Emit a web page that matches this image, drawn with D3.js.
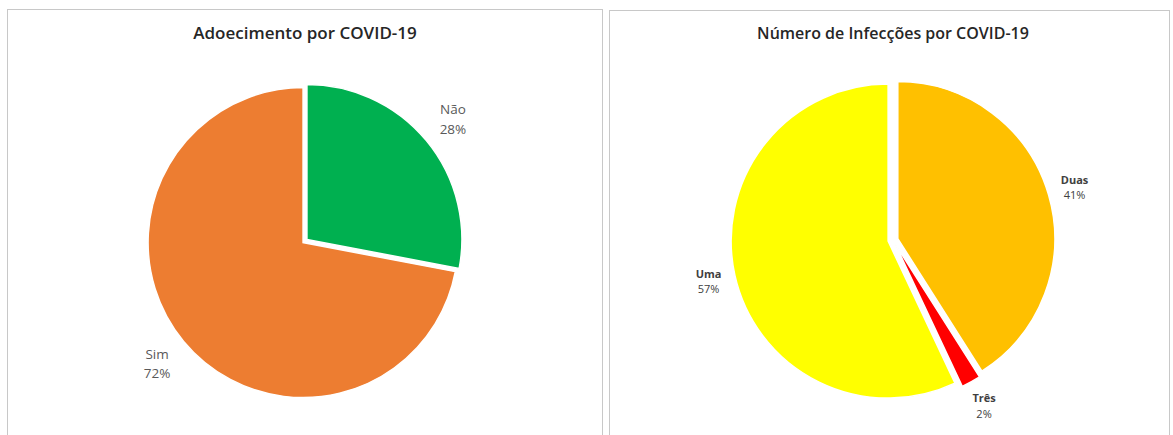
<!DOCTYPE html>
<html>
<head>
<meta charset="utf-8">
<script src="https://cdn.jsdelivr.net/npm/d3@7"></script>
<style>
  body { margin: 0; background: #fff; }
  text { font-family: "Open Sans", sans-serif; }
</style>
</head>
<body>
<svg id="chart" width="1173" height="435"></svg>
<script>
// chart 1 - adoecimento
const cats1 = ["Não", "Sim"];
const vals1 = [28, 72];
const cols1 = ["#00B050", "#ED7D31"];

// chart 2 - numero de infeccoes
const cats2 = ["Duas", "Três", "Uma"];
const vals2 = [41, 2, 57];
const cols2 = ["#FFC000", "#FF0000", "#FFFF00"];

const svg = d3.select("#chart");

// panel frames
svg.append("rect").attr("x", 7.5).attr("y", 9.5).attr("width", 595).attr("height", 440)
  .attr("fill", "none").attr("stroke", "#c8c8c8");
svg.append("rect").attr("x", 609.5).attr("y", 10.5).attr("width", 560).attr("height", 440)
  .attr("fill", "none").attr("stroke", "#c8c8c8");

function drawPie(opt) {
  const g = svg.append("g").attr("transform", "translate(" + opt.cx + "," + opt.cy + ")");
  const data = opt.vals.map((v, i) => ({ name: opt.cats[i], value: v, color: opt.cols[i] }));
  const pie = d3.pie().sort(null).value(d => d.value);
  const arcs = pie(data);
  const arc = d3.arc().innerRadius(0).outerRadius(opt.r);
  const labelArc = d3.arc().innerRadius(opt.lr).outerRadius(opt.lr);

  // explode each slice a bit along its bisector
  g.selectAll("path")
    .data(arcs)
    .enter()
    .append("path")
      .attr("d", arc)
      .attr("fill", d => d.data.color)
      .attr("stroke", "#fff")
      .attr("stroke-width", 1.5)
      .attr("transform", d => {
        const a = (d.startAngle + d.endAngle) / 2;
        return "translate(" + (Math.sin(a) * opt.explode) + "," + (-Math.cos(a) * opt.explode) + ")";
      });

  const lab = g.selectAll("text.lbl")
    .data(arcs)
    .enter()
    .append("text")
      .attr("class", "lbl")
      .attr("text-anchor", "middle")
      .attr("font-size", opt.fs)
      .attr("fill", opt.lc)
      .attr("transform", d => "translate(" + labelArc.centroid(d) + ")");
  lab.append("tspan")
    .attr("x", 0).attr("y", opt.l1)
    .attr("font-weight", opt.nameWeight)
    .text(d => d.data.name);
  lab.append("tspan")
    .attr("x", 0).attr("y", opt.l2)
    .text(d => d.data.value + "%");

  svg.append("text")
    .attr("x", opt.cx).attr("y", 39)
    .attr("text-anchor", "middle")
    .attr("font-size", opt.tfs)
    .attr("font-weight", 600)
    .attr("fill", "#262626")
    .text(opt.title);
}

drawPie({
  cats: cats1, vals: vals1, cols: cols1,
  cx: 305, cy: 241, r: 155, lr: 192, explode: 2.5,
  fs: 13.5, lc: "#595959", nameWeight: 400, l1: -4.5, l2: 15,
  title: "Adoecimento por COVID-19", tfs: 17
});

drawPie({
  cats: cats2, vals: vals2, cols: cols2,
  cx: 893, cy: 240, r: 157, lr: 189, explode: 5,
  fs: 11, lc: "#404040", nameWeight: 700, l1: -3.5, l2: 12,
  title: "Número de Infecções por COVID-19", tfs: 16
});
</script>
</body>
</html>
